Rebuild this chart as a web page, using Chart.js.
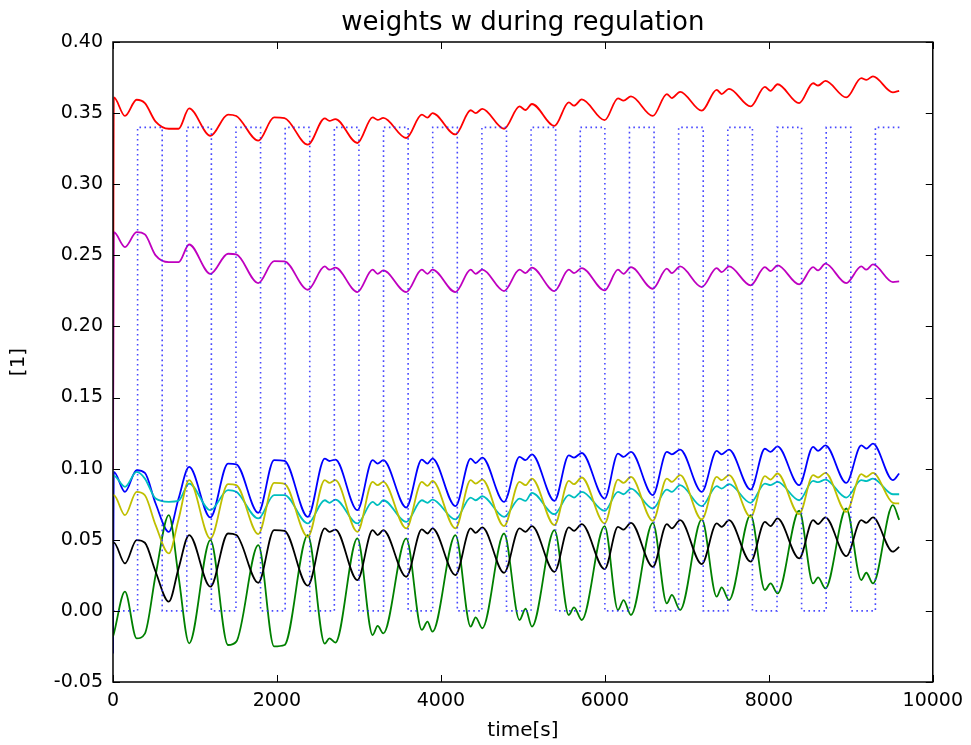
<!DOCTYPE html>
<html>
<head>
<meta charset="utf-8">
<script src="https://cdn.jsdelivr.net/npm/chart.js@4.4.1/dist/chart.umd.min.js"></script>
<style>
  html, body { margin: 0; padding: 0; background: #fff; }
</style>
</head>
<body>
<canvas id="weightsChart" width="971" height="745"></canvas>
<script>
// time stamps [s] (shared by all weight curves)
const timeS = [0, 10, 146, 288, 389, 520, 681, 800, 929, 1188, 1403, 1504, 1772, 1965, 2092,
  2376, 2583, 2640, 2713, 2981, 3167, 3228, 3297, 3577, 3767, 3836, 3897, 4177, 4363, 4424,
  4505, 4770, 4959, 5032, 5110, 5385, 5560, 5624, 5718, 5997, 6160, 6228, 6318, 6585, 6756,
  6817, 6918, 7182, 7364, 7425, 7514, 7778, 7952, 8021, 8106, 8370, 8540, 8601, 8690, 8945,
  9128, 9189, 9270, 9513, 9590];

// weights
const wBlue = [-0.03, 0.0977, 0.0837, 0.0989, 0.097, 0.0755, 0.0556, 0.079, 0.1012, 0.0657,
  0.1036, 0.1031, 0.069, 0.106, 0.1055, 0.0661, 0.107, 0.1054, 0.1064, 0.0708, 0.106, 0.1036,
  0.106, 0.0727, 0.1064, 0.1036, 0.1071, 0.0736, 0.1071, 0.104, 0.1078, 0.0767, 0.1083, 0.106,
  0.1101, 0.0774, 0.1094, 0.1078, 0.111, 0.079, 0.1106, 0.1083, 0.1118, 0.0814, 0.1118, 0.1101,
  0.1134, 0.0837, 0.1125, 0.1101, 0.1134, 0.0853, 0.114, 0.1118, 0.1157, 0.0884, 0.1153, 0.1125,
  0.1164, 0.090, 0.1164, 0.1141, 0.1176, 0.0919, 0.0966];
const wGreen = [-0.018, -0.016, 0.0135, -0.0193, -0.016, 0.0252, 0.0673, 0.024, -0.0228, 0.0498,
  -0.024, -0.0216, 0.0462, -0.025, -0.024, 0.0533, -0.023, -0.0193, -0.0223, 0.051, -0.017,
  -0.0106, -0.0158, 0.051, -0.0134, -0.0076, -0.0146, 0.0533, -0.011, -0.0045, -0.0122, 0.0544,
  -0.0064, 0.0015, -0.011, 0.0568, -0.0029, 0.0025, -0.0064, 0.0596, 0.0006, 0.0076, -0.0029,
  0.0619, 0.0053, 0.0112, 0.0006, 0.0643, 0.01, 0.0165, 0.0076, 0.0673, 0.0147, 0.0193, 0.0123,
  0.0704, 0.0193, 0.0236, 0.0158, 0.072, 0.0217, 0.0268, 0.0193, 0.0743, 0.064];
const wRed = [0.10, 0.361, 0.348, 0.3594, 0.357, 0.344, 0.339, 0.339, 0.3533, 0.334, 0.349,
  0.348, 0.3306, 0.347, 0.3465, 0.3278, 0.3463, 0.3445, 0.3458, 0.329, 0.347, 0.3452, 0.3466,
  0.3325, 0.349, 0.3468, 0.350, 0.335, 0.352, 0.350, 0.353, 0.339, 0.3547, 0.3522, 0.3564, 0.341,
  0.3575, 0.3552, 0.3596, 0.345, 0.3604, 0.3588, 0.3617, 0.348, 0.3634, 0.3606, 0.365, 0.3517,
  0.3664, 0.3634, 0.367, 0.3547, 0.3685, 0.3657, 0.3703, 0.357, 0.371, 0.3694, 0.3726, 0.361,
  0.3746, 0.3734, 0.3758, 0.3646, 0.3657];
const wCyan = [0.095, 0.095, 0.0872, 0.0977, 0.093, 0.079, 0.0767, 0.0775, 0.0895, 0.0708,
  0.0849, 0.0837, 0.065, 0.0814, 0.0814, 0.0615, 0.0778, 0.076, 0.0783, 0.0615, 0.0767, 0.0743,
  0.0778, 0.0626, 0.0778, 0.076, 0.0783, 0.0643, 0.0797, 0.0778, 0.0806, 0.0661, 0.079, 0.0774,
  0.083, 0.068, 0.0814, 0.0797, 0.0837, 0.0703, 0.0837, 0.082, 0.086, 0.072, 0.0853, 0.0837,
  0.0884, 0.0736, 0.0877, 0.086, 0.0891, 0.076, 0.0895, 0.0884, 0.0907, 0.0778, 0.0914, 0.0905,
  0.0923, 0.0797, 0.0919, 0.0912, 0.093, 0.082, 0.082];
const wMagenta = [0.10, 0.2663, 0.2558, 0.2663, 0.2647, 0.250, 0.2452, 0.2452, 0.2576, 0.2370,
  0.2511, 0.2506, 0.2305, 0.2459, 0.2457, 0.2258, 0.2422, 0.2399, 0.2413, 0.2242, 0.2399, 0.2370,
  0.2394, 0.2242, 0.2399, 0.2370, 0.2399, 0.2242, 0.2399, 0.2370, 0.2399, 0.2249, 0.2399, 0.2375,
  0.2413, 0.2249, 0.2399, 0.2375, 0.2410, 0.2253, 0.2399, 0.2370, 0.2417, 0.2265, 0.2406, 0.2375,
  0.2422, 0.2277, 0.2410, 0.2382, 0.2422, 0.2289, 0.2417, 0.2389, 0.2429, 0.2296, 0.2417, 0.2394,
  0.2441, 0.2305, 0.2422, 0.2399, 0.2436, 0.2312, 0.2317];
const wYellow = [0.0813, 0.0813, 0.0673, 0.0837, 0.0813, 0.0603, 0.0404, 0.0645, 0.0919, 0.0509,
  0.0891, 0.0884, 0.054, 0.090, 0.0893, 0.0521, 0.0919, 0.090, 0.0919, 0.0556, 0.0907, 0.0884,
  0.0907, 0.058, 0.0907, 0.0879, 0.0914, 0.058, 0.0919, 0.0895, 0.0923, 0.0596, 0.0907, 0.0884,
  0.093, 0.0603, 0.0914, 0.0891, 0.0938, 0.0615, 0.0923, 0.090, 0.0942, 0.0633, 0.093, 0.0907,
  0.0954, 0.0643, 0.0942, 0.0919, 0.0954, 0.0661, 0.0947, 0.0923, 0.0966, 0.068, 0.0954, 0.0938,
  0.097, 0.0696, 0.0961, 0.0942, 0.097, 0.076, 0.0755];
const wBlack = [0.048, 0.048, 0.0334, 0.0498, 0.0479, 0.0275, 0.0065, 0.0299, 0.0533, 0.017,
  0.0544, 0.0533, 0.0198, 0.0568, 0.0563, 0.0177, 0.058, 0.0556, 0.0572, 0.0217, 0.0568, 0.0533,
  0.0568, 0.024, 0.0573, 0.0544, 0.058, 0.0252, 0.058, 0.0549, 0.0587, 0.0268, 0.058, 0.0556,
  0.0596, 0.0275, 0.0587, 0.0563, 0.061, 0.0294, 0.0591, 0.0572, 0.0619, 0.031, 0.061, 0.058,
  0.0638, 0.0329, 0.0615, 0.0591, 0.0638, 0.0346, 0.0626, 0.0596, 0.065, 0.0369, 0.0638, 0.061,
  0.0657, 0.0385, 0.0638, 0.0619, 0.0657, 0.0416, 0.045];

// regulation input (dotted square wave), value holds until the next switch time
const pulseT = [0, 300, 600, 900, 1200, 1500, 1800, 2100, 2400, 2700, 3000, 3300, 3600, 3900,
  4200, 4500, 4800, 5100, 5400, 5700, 6000, 6300, 6600, 6900, 7200, 7500, 7800, 8100, 8400,
  8700, 9000, 9300, 9600];
const pulseW = [0, 0.34, 0, 0.34, 0, 0.34, 0, 0.34, 0, 0.34, 0, 0.34, 0, 0.34, 0, 0.34, 0, 0.34,
  0, 0.34, 0, 0.34, 0, 0.34, 0, 0.34, 0, 0.34, 0, 0.34, 0, 0.34, 0.34];

const xTicks = [0, 2000, 4000, 6000, 8000, 10000];
const yTicks = [-0.05, 0.00, 0.05, 0.10, 0.15, 0.20, 0.25, 0.30, 0.35, 0.40];

const toPoints = (ts, ws) => ts.map((t, i) => ({ x: t, y: ws[i] }));

function curve(values, color) {
  return {
    data: toPoints(timeS, values),
    borderColor: color,
    borderWidth: 1.8,
    pointRadius: 0,
    cubicInterpolationMode: 'monotone',
    fill: false
  };
}

// matplotlib style frame with inward ticks on all four sides
const frameTicks = {
  id: 'frameTicks',
  afterDatasetsDraw(chart) {
    const { ctx, chartArea: a, scales: { x, y } } = chart;
    ctx.save();
    ctx.strokeStyle = '#000';
    ctx.lineWidth = 1;
    ctx.beginPath();
    xTicks.forEach(v => {
      const px = Math.round(x.getPixelForValue(v)) + 0.5;
      ctx.moveTo(px, a.bottom); ctx.lineTo(px, a.bottom - 7);
      ctx.moveTo(px, a.top); ctx.lineTo(px, a.top + 7);
    });
    yTicks.forEach(v => {
      const py = Math.round(y.getPixelForValue(v)) + 0.5;
      ctx.moveTo(a.left, py); ctx.lineTo(a.left + 7, py);
      ctx.moveTo(a.right, py); ctx.lineTo(a.right - 7, py);
    });
    ctx.stroke();
    ctx.lineWidth = 1.5;
    ctx.strokeRect(a.left, a.top, a.right - a.left, a.bottom - a.top);
    ctx.restore();
  }
};

Chart.defaults.font.family = 'DejaVu Sans';
Chart.defaults.color = '#000';

new Chart(document.getElementById('weightsChart').getContext('2d'), {
  type: 'line',
  data: {
    datasets: [
      {
        data: toPoints(pulseT, pulseW),
        stepped: 'before',
        borderColor: 'rgba(40, 40, 255, 0.85)',
        borderWidth: 1.6,
        borderDash: [1.6, 3.4],
        pointRadius: 0,
        fill: false
      },
      curve(wBlack, '#000000'),
      curve(wYellow, '#bfbf00'),
      curve(wMagenta, '#bf00bf'),
      curve(wCyan, '#00bfbf'),
      curve(wRed, '#ff0000'),
      curve(wGreen, '#008000'),
      curve(wBlue, '#0000ff')
    ]
  },
  options: {
    responsive: false,
    animation: false,
    events: [],
    layout: { padding: { left: 0, right: 36, top: 0, bottom: 0 } },
    plugins: {
      legend: { display: false },
      tooltip: { enabled: false },
      title: {
        display: true,
        fullSize: false,
        text: 'weights w during regulation',
        font: { size: 26, weight: 'normal' },
        color: '#000',
        padding: { top: 8, bottom: 2.8 }
      }
    },
    scales: {
      x: {
        type: 'linear',
        min: 0,
        max: 10000,
        afterFit: s => { s.height = 63; },
        afterBuildTicks: s => { s.ticks = xTicks.map(v => ({ value: v })); },
        grid: { display: false, drawTicks: false },
        border: { display: false },
        ticks: { padding: 8, maxRotation: 0, font: { size: 19 }, callback: v => String(v) },
        title: { display: true, text: 'time[s]', font: { size: 20 }, padding: { top: 0, bottom: 2 } }
      },
      y: {
        type: 'linear',
        min: -0.05,
        max: 0.40,
        afterFit: s => { s.width = 113; },
        afterBuildTicks: s => { s.ticks = yTicks.map(v => ({ value: v })); },
        grid: { display: false, drawTicks: false },
        border: { display: false },
        ticks: { padding: 10, font: { size: 19 }, callback: v => v.toFixed(2) },
        title: { display: true, text: '[1]', font: { size: 20 }, padding: { top: 7, bottom: 0 } }
      }
    }
  },
  plugins: [frameTicks]
});
</script>
</body>
</html>
